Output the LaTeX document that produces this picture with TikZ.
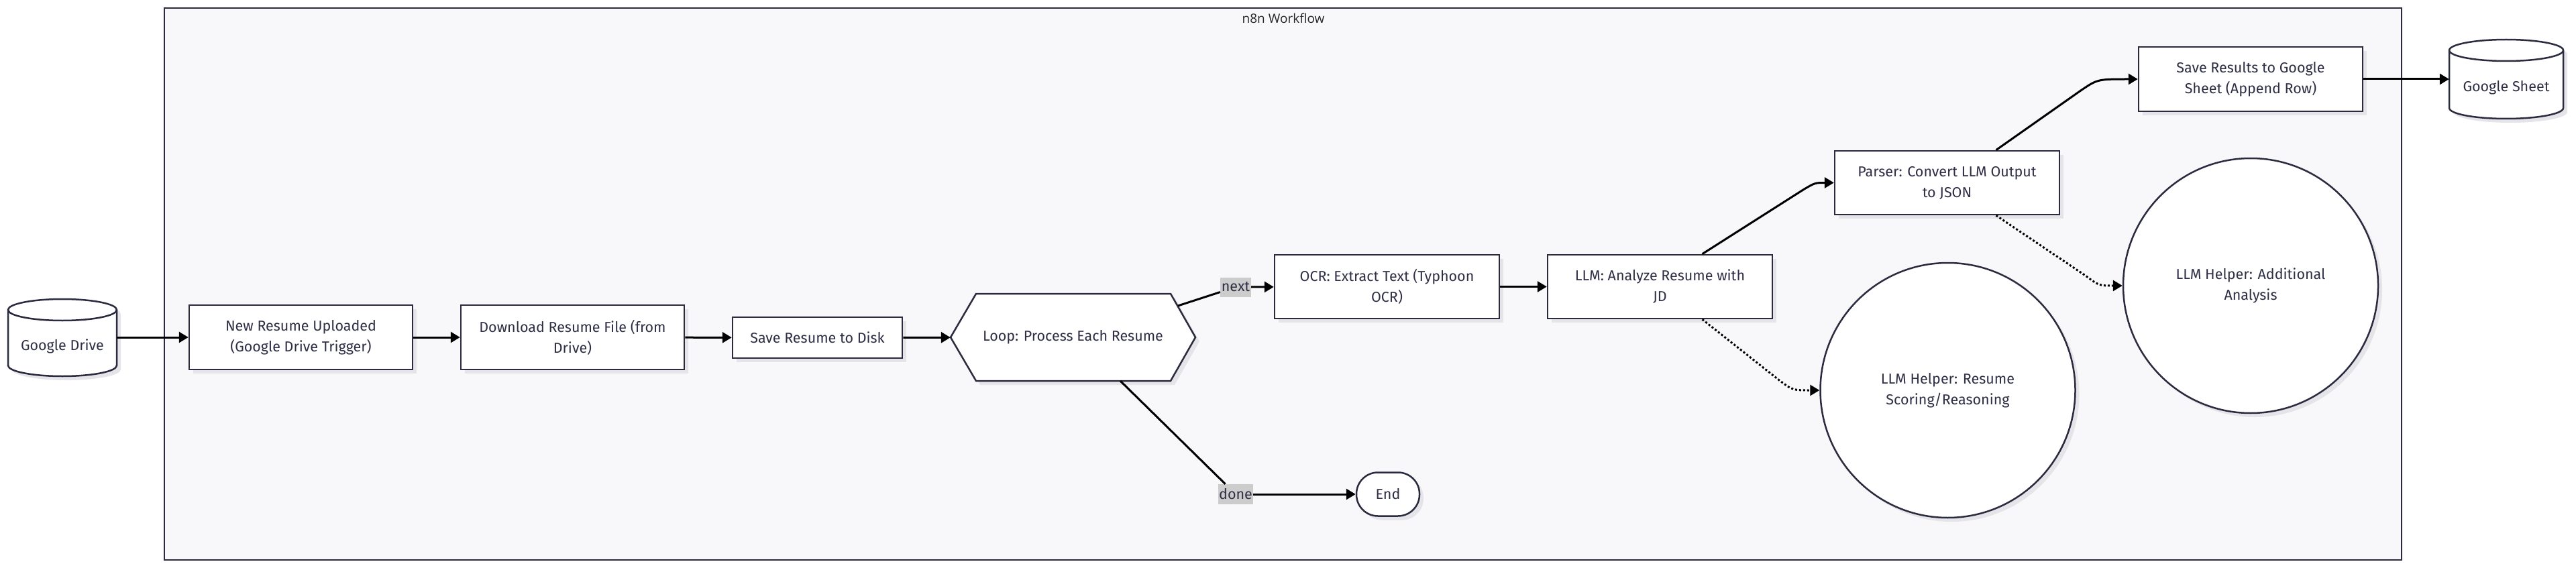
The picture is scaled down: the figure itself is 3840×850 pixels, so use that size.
\documentclass[tikz,border=0pt]{standalone}
\usepackage{fontspec}
\setmainfont{Fira Sans}
\newfontfamily\titlefont{Open Sans}
\usetikzlibrary{arrows.meta,calc,shadows}
\definecolor{ink}{HTML}{2B2B40}
\definecolor{txt}{HTML}{2E2E45}
\definecolor{clfill}{HTML}{F8F8FA}
\definecolor{shade}{HTML}{E4E4E9}
\definecolor{lblbg}{HTML}{CCCCCC}
\begin{document}
\begin{tikzpicture}[x=1pt,y=-1pt,
  every node/.style={font=\fontsize{21.5}{31}\selectfont, text=txt},
  shadowed/.style={drop shadow={shadow xshift=6pt,shadow yshift=-6pt,fill=shade,opacity=1}},
  box/.style={shadowed, draw=ink, line width=2.5pt, fill=white, align=center, inner sep=0pt},
  helper/.style={shadowed, circle, draw=ink, line width=2.5pt, fill=white, align=center, inner sep=0pt, minimum size=380pt},
  shapeline/.style={draw=ink, line width=2.5pt, fill=white},
  shapeshadow/.style={fill=shade},
  cyltext/.style={minimum width=162pt, minimum height=115pt, inner sep=0pt},
  edgelabel/.style={fill=lblbg, inner sep=1pt, minimum width=46pt, minimum height=29pt},
  plain/.style={line width=3pt, draw=black},
  flow/.style={plain, -{Triangle[length=14pt,width=16pt]}},
  dotflow/.style={flow, dash pattern=on 3pt off 3pt},
  cluster/.style={draw=ink, line width=2.5pt, fill=clfill}
]
\useasboundingbox (0,0) rectangle (3840,850);

% cluster
\draw[cluster] (245,12) rectangle (3580,835);
\node[font=\titlefont\fontsize{19}{24}\selectfont, text=black!85] (title) at (1913,27) {n8n Workflow};

% Google Drive cylinder
\begin{scope}[shift={(6pt,-6pt)}]
\fill[shapeshadow] (12,462) -- (12,545) arc[start angle=180,end angle=360,x radius=81pt,y radius=16pt] -- (174,462) arc[start angle=0,end angle=180,x radius=81pt,y radius=16pt] -- cycle;
\end{scope}
\path[shapeline] (12,462) -- (12,545) arc[start angle=180,end angle=360,x radius=81pt,y radius=16pt] -- (174,462) arc[start angle=0,end angle=180,x radius=81pt,y radius=16pt] -- cycle;
\draw[draw=ink, line width=2.5pt] (12,462) arc[start angle=180,end angle=360,x radius=81pt,y radius=16pt];
\node[cyltext] (gdrive) at (93,503) {\smash{\raisebox{-19pt}{Google Drive}}};

% Google Sheet cylinder
\begin{scope}[shift={(6pt,-6pt)}]
\fill[shapeshadow] (3651,75) -- (3651,161) arc[start angle=180,end angle=360,x radius=85pt,y radius=16pt] -- (3821,75) arc[start angle=0,end angle=180,x radius=85pt,y radius=16pt] -- cycle;
\end{scope}
\path[shapeline] (3651,75) -- (3651,161) arc[start angle=180,end angle=360,x radius=85pt,y radius=16pt] -- (3821,75) arc[start angle=0,end angle=180,x radius=85pt,y radius=16pt] -- cycle;
\draw[draw=ink, line width=2.5pt] (3651,75) arc[start angle=180,end angle=360,x radius=85pt,y radius=16pt];
\node[cyltext, minimum width=170pt, minimum height=118pt] (gsheet) at (3736,118) {\smash{\raisebox{-19pt}{Google Sheet}}};

% boxes
\node[box, minimum width=333pt, minimum height=96pt] (trig) at (448.5,503) {New Resume Uploaded\\(Google Drive Trigger)};
\node[box, minimum width=333pt, minimum height=96pt] (dl) at (853.5,503) {Download Resume File (from\\Drive)};
\node[box, minimum width=253pt, minimum height=61pt] (save) at (1218.5,503.5) {Save Resume to Disk};

% loop hexagon
\begin{scope}[shift={(6pt,-6pt)}]
\fill[shapeshadow] (1417,503) -- (1455,438) -- (1745,438) -- (1782,503) -- (1745,568) -- (1455,568) -- cycle;
\end{scope}
\path[shapeline] (1417,503) -- (1455,438) -- (1745,438) -- (1782,503) -- (1745,568) -- (1455,568) -- cycle;
\node[minimum width=365pt, minimum height=130pt, inner sep=0pt] (loop) at (1599.5,503) {Loop: Process Each Resume};

\node[box, minimum width=335pt, minimum height=95pt] (ocr) at (2067.5,427.5) {OCR: Extract Text (Typhoon\\OCR)};
\node[box, minimum width=335pt, minimum height=95pt] (llm) at (2474.5,427.5) {LLM: Analyze Resume with\\JD};
\node[box, minimum width=335pt, minimum height=95pt] (parser) at (2902.5,272.5) {Parser: Convert LLM Output\\to JSON};
\node[box, minimum width=334pt, minimum height=96pt] (saveres) at (3355,118) {Save Results to Google\\Sheet (Append Row)};
\node[helper] (helpadd) at (3355,426) {LLM Helper: Additional\\Analysis};
\node[helper] (helpscore) at (2903.5,582) {LLM Helper: Resume\\Scoring/Reasoning};
\node[box, rounded corners=32pt, minimum width=94pt, minimum height=65pt] (endn) at (2069,737) {End};

% edge labels
\node[edgelabel] (nextlbl) at (1842,428) {next};
\node[edgelabel, minimum width=48pt, minimum height=30pt] (donelbl) at (1842,737) {done};
\coordinate (nstart) at (1756,456);
\coordinate (dstart) at (1670,568);

% edges
\draw[flow] (gdrive) -- (trig);
\draw[flow] (trig) -- (dl);
\draw[flow] (dl) -- (save);
\draw[flow] (save) -- (loop);
\draw[plain] (nstart) -- (nextlbl);
\draw[flow] (nextlbl) -- (ocr);
\draw[plain] (dstart) -- (donelbl);
\draw[flow] (donelbl) -- (endn);
\draw[flow] (ocr) -- (llm);
\draw[flow] ($(llm.north)+(63,0)$) -- ($(parser.west)+(-45,10)$) .. controls ($(parser.west)+(-28,0)$) .. (parser.west);
\draw[flow] ($(parser.north)+(73,0)$) -- ($(saveres.west)+(-85,17)$) .. controls ($(saveres.west)+(-60,0)$) .. (saveres.west);
\draw[dotflow] ($(llm.south)+(63,0)$) -- ($(helpscore.west)+(-60,-15)$) .. controls ($(helpscore.west)+(-40,0)$) .. (helpscore.west);
\draw[dotflow] ($(parser.south)+(73,0)$) -- ($(helpadd.west)+(-55,-15)$) .. controls ($(helpadd.west)+(-35,0)$) .. (helpadd.west);
\draw[flow] (saveres) -- (gsheet);
\end{tikzpicture}
\end{document}
